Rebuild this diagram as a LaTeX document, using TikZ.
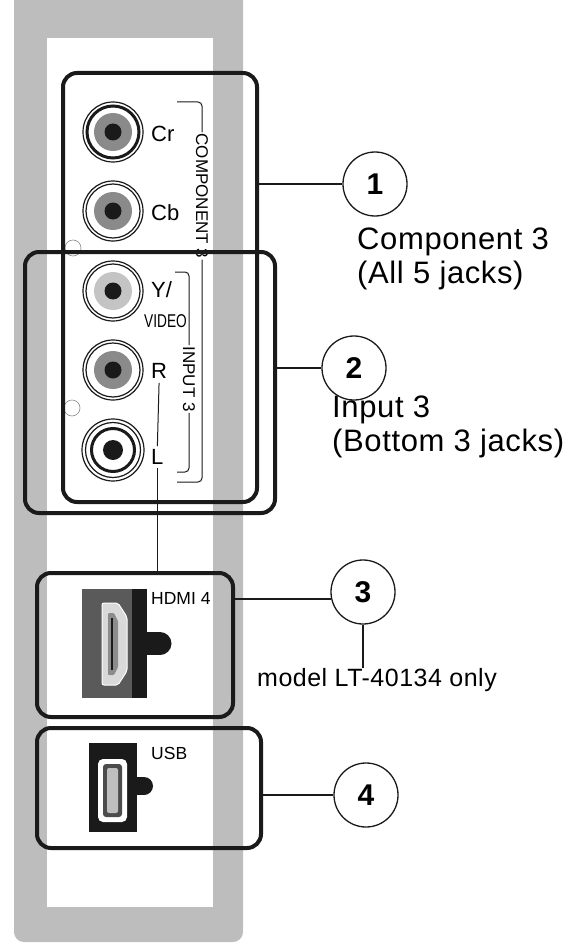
\documentclass[tikz,border=0pt]{standalone}
\usepackage{fontspec}
\setmainfont{Liberation Sans}
\newfontfamily\calloutfont[LetterSpace=2]{Liberation Sans}
\definecolor{panelgray}{HTML}{BDBDBD}
\definecolor{ink}{HTML}{1A1A1A}
\definecolor{discgray}{HTML}{8A8A8A}
\definecolor{disclight}{HTML}{C4C4C4}
\definecolor{hdmibody}{HTML}{5A5A5A}
\definecolor{screwgray}{HTML}{8C8C8C}
\tikzset{
  portbox/.style={draw=ink, line width=4pt, rounded corners=14pt, inner sep=0pt},
  conn/.style={draw=ink, line width=2.5pt},
  numcirc/.style={circle, draw=ink, line width=1.3pt, fill=white, minimum size=64pt, inner sep=0pt,
    font=\fontsize{30}{30}\selectfont\bfseries},
  bracket/.style={draw=ink, line width=1pt, rounded corners=4pt},
  thinline/.style={draw=ink, line width=1pt},
  jacklabel/.style={font=\fontsize{22}{22}\selectfont, inner sep=1pt, anchor=west},
  sidelabel/.style={font=\fontsize{17}{17}\selectfont, inner sep=1pt, rotate=-90},
  portlabel/.style={font=\fontsize{17.5}{17.5}\selectfont, inner sep=0pt, anchor=west},
  callout/.style={font=\calloutfont\fontsize{31}{31}\selectfont, anchor=base west, inner sep=0pt},
  note/.style={font=\calloutfont\fontsize{25}{25}\selectfont, anchor=base west, inner sep=0pt},
}
\newcommand{\jackstd}[2]{%
  \draw[ink, line width=1.2pt] #1 circle[radius=30pt];
  \draw[ink, line width=1.2pt] #1 circle[radius=27pt];
  \fill[#2] #1 circle[radius=19pt];
  \fill[ink] #1 circle[radius=8.5pt];
}
\begin{document}
\begin{tikzpicture}[x=1pt, y=-1pt]
\useasboundingbox (0,0) rectangle (572,944);
% panel
\fill[panelgray, rounded corners=10pt] (14,-20) rectangle (243,942);
\fill[white] (47,38) rectangle (213,907);
% screw outlines
\draw[screwgray, line width=0.6pt] (73,248) circle[radius=8pt];
\draw[screwgray, line width=0.6pt] (72,408) circle[radius=8pt];
% RCA jacks
\draw[ink, line width=1.2pt] (113,132) circle[radius=30pt];
\draw[ink, line width=3pt] (113,132) circle[radius=26pt];
\fill[discgray] (113,132) circle[radius=19pt];
\fill[ink] (113,132) circle[radius=8.5pt];
\jackstd{(113,211)}{discgray}
\jackstd{(113,291)}{disclight}
\jackstd{(113,370)}{discgray}
\draw[ink, line width=1.2pt] (113,450) circle[radius=31pt];
\draw[ink, line width=1.2pt] (113,450) circle[radius=27.5pt];
\draw[ink, line width=3pt] (113,450) circle[radius=21.5pt];
\fill[ink] (113,450) circle[radius=10pt];
% jack labels
\node[jacklabel] (lcr) at (150,134) {Cr};
\node[jacklabel] (lcb) at (150,213) {Cb};
\node[jacklabel] (ly) at (150,290) {Y/};
\node[portlabel, font=\fontsize{18.5}{18.5}\selectfont] (lvideo) at (144,321) {\scalebox{0.74}[1]{VIDEO}};
\node[jacklabel] (lr) at (150,371) {R};
\node[jacklabel] (ll) at (150,457) {L};
% side labels and brackets
\node[sidelabel] (comp) at (202,196) {COMPONENT 3};
\node[sidelabel] (inp) at (189,379) {INPUT 3};
\draw[bracket] (177,102) -| (comp.west);
\draw[bracket] (comp.east) |- (177,482);
\draw[bracket] (175,272) -| (inp.west);
\draw[bracket] (inp.east) |- (177,472);
% HDMI port
\fill[hdmibody] (82,589) rectangle (147,698);
\fill[ink] (132,589) rectangle (147,698);
\fill[ink] (146,632) rectangle (160,655);
\fill[ink] (160,643.5) circle[radius=11.5pt];
\filldraw[fill=black!15, draw=white, line width=1pt, rounded corners=2pt]
  (102,603) -- (118,603) -- (127,617) -- (127,671) -- (118,685) -- (102,685) -- cycle;
\fill[black!45, rounded corners=1pt] (108,613) -- (114,613) -- (118,621) -- (118,667) -- (114,675) -- (108,675) -- cycle;
\draw[ink, line width=1.5pt] (112,618) -- (112,670);
\node[portlabel] (lhdmi) at (151,598) {HDMI 4};
% USB port
\fill[ink] (89,743) rectangle (137,832);
\fill[ink] (136,777) rectangle (144,795);
\fill[ink] (144,786) circle[radius=9pt];
\fill[white, rounded corners=5pt] (98,759) rectangle (127,822);
\fill[black!70, rounded corners=3pt] (103,764) rectangle (122,817);
\fill[black!25, rounded corners=2pt] (107,768) rectangle (118,813);
\node[portlabel] (lusb) at (151,753) {USB};
% group boxes
\node[portbox, minimum width=194pt, minimum height=429pt] (b1) at (160,287.5) {};
\node[portbox, minimum width=250pt, minimum height=261pt] (b2) at (150,382.5) {};
\node[portbox, minimum width=196pt, minimum height=144pt] (b3) at (135,645) {};
\node[portbox, minimum width=224pt, minimum height=120pt] (b4) at (149,788) {};
% L to HDMI line, R-L line
\draw[thinline, shorten <=3pt, shorten >=2pt] (lr.south) -- (ll.north);
\draw[thinline, shorten <=2pt] (ll.south) -- (ll.south |- b3.north);
% callout circles
\node[numcirc] (c1) at (375,184) {1};
\node[numcirc] (c2) at (354,368) {2};
\node[numcirc] (c3) at (363,592) {3};
\node[numcirc] (c4) at (366,795) {4};
\draw[conn] (c1.west -| b1.east) -- (c1.west);
\draw[conn] (c2.west -| b2.east) -- (c2.west);
\draw[conn] (c3.192 -| b3.east) -- (c3.192);
\draw[conn] (c4.west -| b4.east) -- (c4.west);
% callout texts
\node[callout] (t1a) at (357,249) {Component 3};
\node[callout] (t1b) at (357,283) {(All 5 jacks)};
\node[callout] (t2a) at (332,417) {Input 3};
\node[callout] (t2b) at (332,451) {(Bottom 3 jacks)};
\node[note] (model) at (257,686) {model LT-40134 only};
\draw[conn] (c3.south) -- (c3.south |- model.north);
\end{tikzpicture}
\end{document}
